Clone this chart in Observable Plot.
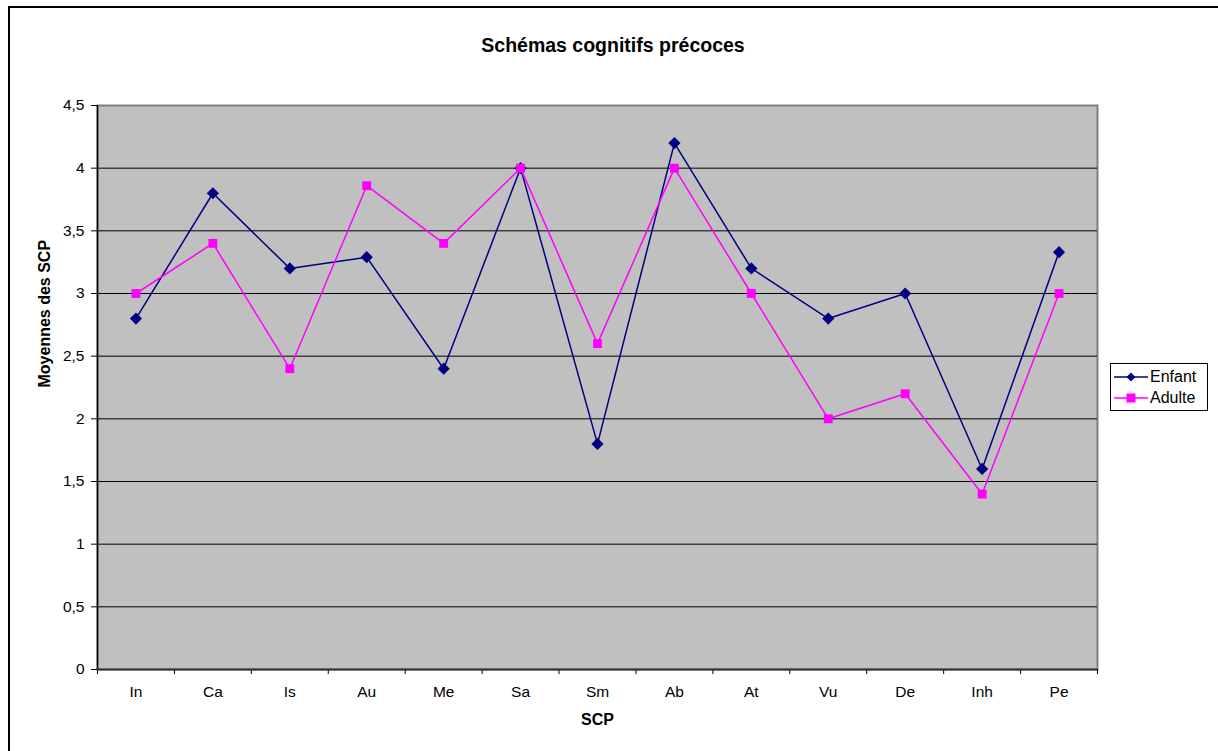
<!DOCTYPE html>
<html>
<head>
<meta charset="utf-8">
<script src="https://cdn.jsdelivr.net/npm/d3@7"></script>
<script src="https://cdn.jsdelivr.net/npm/@observablehq/plot@0.6"></script>
<style>
  html, body { margin: 0; padding: 0; background: #fff; }
  #wrap { position: relative; width: 1218px; height: 751px; overflow: hidden; font-family: "Liberation Sans", Arial, sans-serif; }
  #border { position: absolute; left: 8px; top: 6px; width: 1300px; height: 900px; border: 2.5px solid #000; box-sizing: border-box; }
  #chart { position: absolute; left: 0; top: 0; }
  #chart g[aria-label$="tick label"], #chart g[aria-label$="tick label"] text { font-size: 15.5px; }
  #title { position: absolute; left: 0; width: 1226px; top: 34px; text-align: center; font-weight: bold; font-size: 19.5px; }
  #legend { position: absolute; left: 1110px; top: 363px; width: 98px; height: 48px; border: 1px solid #000; box-sizing: border-box; background: #fff; font-size: 16px; }
  .item { position: absolute; left: 0; height: 20px; display: flex; align-items: center; }
</style>
</head>
<body>
<div id="wrap">
  <div id="border"></div>
  <div id="chart"></div>
  <div id="title">Schémas cognitifs précoces</div>
  <div id="legend"></div>
</div>
<script>
const categories = ["In", "Ca", "Is", "Au", "Me", "Sa", "Sm", "Ab", "At", "Vu", "De", "Inh", "Pe"];
const enfant = [2.8, 3.8, 3.2, 3.29, 2.4, 4.0, 1.8, 4.2, 3.2, 2.8, 3.0, 1.6, 3.33];
const adulte = [3.0, 3.4, 2.4, 3.86, 3.4, 4.0, 2.6, 4.0, 3.0, 2.0, 2.2, 1.4, 3.0];
const yTicks = [0, 0.5, 1, 1.5, 2, 2.5, 3, 3.5, 4, 4.5];
const seriesNames = ["Enfant", "Adulte"];
const seriesColors = ["#000080", "#ff00ff"];
const seriesSymbols = ["diamond2", "square"];

const rowsE = categories.map((c, i) => ({pos: i + 0.5, v: enfant[i], s: "Enfant"}));
const rowsA = categories.map((c, i) => ({pos: i + 0.5, v: adulte[i], s: "Adulte"}));
const boundaries = d3.range(categories.length + 1);
const centers = categories.map((c, i) => i + 0.5);

const chart = Plot.plot({
  width: 1218,
  height: 751,
  marginLeft: 97,
  marginRight: 121,
  marginTop: 105,
  marginBottom: 82,
  style: {fontFamily: "Liberation Sans, Arial, sans-serif", fontSize: "15px", color: "#000", background: "transparent"},
  x: {type: "linear", domain: [0, categories.length]},
  y: {domain: [0, 4.5]},
  marks: [
    Plot.frame({fill: "#c0c0c0", stroke: "#808080", strokeWidth: 2}),
    Plot.gridY(yTicks.filter(t => t > 0 && t < 4.5), {stroke: "#000", strokeOpacity: 1, strokeWidth: 1}),
    Plot.axisY({ticks: yTicks, tickSize: 6, tickPadding: 7, tickFormat: d => String(d).replace(".", ","), label: null}),
    Plot.axisX({ticks: boundaries, tickSize: 5, tickFormat: () => "", label: null}),
    Plot.axisX({ticks: centers, tickSize: 0, tickPadding: 16, tickFormat: d => categories[Math.round(d - 0.5)], label: null}),
    Plot.ruleX([0], {stroke: "#000", strokeWidth: 1.5}),
    Plot.ruleY([0], {stroke: "#333", strokeWidth: 2}),
    Plot.line(rowsE, {x: "pos", y: "v", stroke: seriesColors[0], strokeWidth: 1.5}),
    Plot.line(rowsA, {x: "pos", y: "v", stroke: seriesColors[1], strokeWidth: 1.5}),
    Plot.dot(rowsE, {x: "pos", y: "v", symbol: seriesSymbols[0], fill: seriesColors[0], stroke: seriesColors[0], strokeWidth: 0, r: 5.5}),
    Plot.dot(rowsA, {x: "pos", y: "v", symbol: seriesSymbols[1], fill: seriesColors[1], r: 5}),
    Plot.text(["SCP"], {frameAnchor: "bottom", dy: 55, fontWeight: "bold", fontSize: 16}),
    Plot.text(["Moyennes des SCP"], {frameAnchor: "left", dx: -53, rotate: -90, fontWeight: "bold", fontSize: 16})
  ]
});
document.getElementById("chart").appendChild(chart);

// legend
const legend = document.getElementById("legend");
seriesNames.forEach((name, i) => {
  const item = document.createElement("div");
  item.className = "item";
  item.style.top = (3 + i * 21) + "px";
  const sym = seriesSymbols[i] === "diamond2"
    ? `<path d="M18 5.5 L22.5 10 L18 14.5 L13.5 10 Z" fill="${seriesColors[i]}"/>`
    : `<rect x="13.5" y="5.5" width="9" height="9" fill="${seriesColors[i]}"/>`;
  item.innerHTML = `<svg width="36" height="20" style="margin-left:2px"><line x1="1" x2="35" y1="10" y2="10" stroke="${seriesColors[i]}" stroke-width="1.5"/>${sym}</svg><span style="margin-left:1px">${name}</span>`;
  legend.appendChild(item);
});
</script>
</body>
</html>
